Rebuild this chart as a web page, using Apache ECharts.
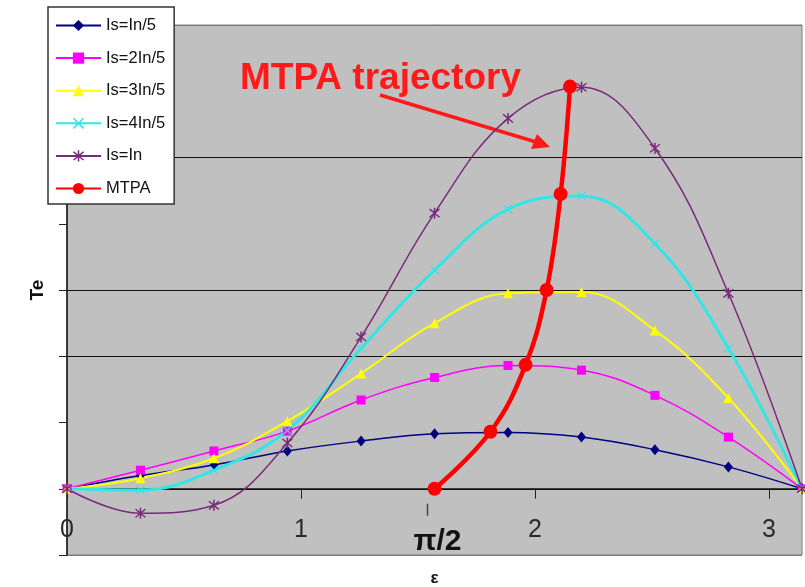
<!DOCTYPE html>
<html>
<head>
<meta charset="utf-8">
<script src="https://cdn.jsdelivr.net/npm/echarts@6/dist/echarts.min.js"></script>
<style>
  html, body { margin: 0; padding: 0; background: #ffffff; }
  #chart { width: 805px; height: 587px; }
</style>
</head>
<body>
<div id="chart"></div>
<script>
// Electrical angle samples (rad) shared by all current levels
const epsilon = [0, 0.314, 0.628, 0.942, 1.257, 1.571, 1.885, 2.199, 2.513, 2.827, 3.1416];

// Torque Te for each stator current level
const teIn1of5 = [0, 0.20, 0.36, 0.57, 0.72, 0.83, 0.85, 0.78, 0.59, 0.33, 0];
const teIn2of5 = [0, 0.28, 0.57, 0.87, 1.34, 1.68, 1.86, 1.79, 1.41, 0.78, 0];
const teIn3of5 = [0, 0.16, 0.46, 1.02, 1.74, 2.50, 2.95, 2.97, 2.39, 1.37, 0];
const teIn4of5 = [0, -0.02, 0.28, 0.88, 2.12, 3.30, 4.22, 4.42, 3.70, 2.12, 0];
const teIn = [0, -0.37, -0.25, 0.69, 2.29, 4.16, 5.59, 6.06, 5.14, 2.95, 0];

// Maximum-torque-per-ampere points (angle, torque)
const mtpaEps = [1.571, 1.81, 1.96, 2.05, 2.11, 2.15];
const mtpaTe = [0, 0.86, 1.87, 3.00, 4.45, 6.07];

const seriesNames = ['Is=In/5', 'Is=2In/5', 'Is=3In/5', 'Is=4In/5', 'Is=In', 'MTPA'];
const xTickLabels = ['0', '1', '2', '3'];

const pairs = (xs, ys) => xs.map((x, i) => [x, ys[i]]);

// marker shapes
const xMark = 'path://M1,0 L5,4 L9,0 L10,1 L6,5 L10,9 L9,10 L5,6 L1,10 L0,9 L4,5 L0,1 Z';
const starMark = 'path://M1,0 L5,4 L9,0 L10,1 L6,5 L10,9 L9,10 L5,6 L1,10 L0,9 L4,5 L0,1 Z M4.3,-1 L5.7,-1 L5.7,11 L4.3,11 Z';

const chart = echarts.init(document.getElementById('chart'), null, { renderer: 'canvas' });

function curve(name, data, color, symbol, size, width) {
  return {
    name: name,
    type: 'line',
    data: data,
    smooth: 0.4,
    symbol: symbol,
    symbolSize: size,
    showAllSymbol: true,
    lineStyle: { color: color, width: width },
    itemStyle: { color: color },
    emphasis: { disabled: true },
    animation: false
  };
}

const option = {
  animation: false,
  textStyle: { fontFamily: 'Arial, "Liberation Sans", sans-serif' },
  grid: {
    left: 67, right: 3, top: 25, bottom: 32,
    outerBoundsMode: 'none',
    containLabel: false,
    show: true,
    backgroundColor: '#c0c0c0',
    borderColor: '#7a7a7a',
    borderWidth: 1
  },
  legend: {
    orient: 'vertical',
    left: 48, top: 7,
    data: seriesNames,
    backgroundColor: '#ffffff',
    borderColor: '#333333',
    borderWidth: 1.5,
    padding: [10, 9, 7, 7],
    itemWidth: 45,
    itemHeight: 14,
    itemGap: 15.6,
    textStyle: { fontSize: 16.5, lineHeight: 16, color: '#111', fontFamily: 'Arial, "Liberation Sans", sans-serif' }
  },
  xAxis: {
    type: 'value',
    min: 0, max: 3.1416, interval: 1,
    axisLine: { onZero: true, lineStyle: { color: '#111', width: 1.5 } },
    axisTick: { show: true, length: 10, lineStyle: { color: '#222' } },
    axisLabel: {
      inside: true,
      margin: 12, fontSize: 25, color: '#2a2a2a',
      showMaxLabel: false,
      formatter: v => (Number.isInteger(v) ? xTickLabels[v] : '')
    },
    splitLine: { show: false }
  },
  yAxis: {
    type: 'value',
    min: -1, max: 7, interval: 1,
    name: 'Te',
    nameLocation: 'middle',
    nameGap: 20,
    nameTextStyle: { fontSize: 19, fontWeight: 'bold', color: '#111' },
    axisLine: { show: true, lineStyle: { color: '#111', width: 1.5 } },
    axisTick: { show: true, length: 8, lineStyle: { color: '#222' } },
    axisLabel: { show: false },
    splitLine: {
      show: true,
      lineStyle: {
        width: 1.2,
        color: ['#7a7a7a', '#111', 'transparent', '#111', '#111', 'transparent', '#111', 'transparent', '#7a7a7a']
      }
    }
  },
  series: [
    curve(seriesNames[0], pairs(epsilon, teIn1of5), '#000080', 'diamond', [9, 11], 1.5),
    curve(seriesNames[1], pairs(epsilon, teIn2of5), '#ff00ff', 'rect', 9, 1.5),
    curve(seriesNames[2], pairs(epsilon, teIn3of5), '#ffff00', 'triangle', 10, 2),
    curve(seriesNames[3], pairs(epsilon, teIn4of5), '#33e6e6', xMark, 9, 3),
    curve(seriesNames[4], pairs(epsilon, teIn), '#7a2a7a', starMark, 11, 1.5),
    curve(seriesNames[5], pairs(mtpaEps, mtpaTe), '#ff0000', 'circle', 14, 4.5)
  ]
};

chart.setOption(option);

// annotations: pi/2 marker under the axis, axis symbol and the trajectory callout
const halfPiX = chart.convertToPixel({ xAxisIndex: 0 }, 1.5708);
const zeroY = chart.convertToPixel({ yAxisIndex: 0 }, 0);

chart.setOption({
  graphic: [
    {
      type: 'line',
      shape: { x1: halfPiX - 7, y1: zeroY + 15, x2: halfPiX - 7, y2: zeroY + 27 },
      style: { stroke: '#444', lineWidth: 1.5 }
    },
    {
      type: 'text',
      x: halfPiX + 3, y: zeroY + 53,
      style: {
        text: 'π/2', fill: '#111',
        font: 'bold 30px Arial, "Liberation Sans", sans-serif',
        textAlign: 'center', textVerticalAlign: 'middle'
      }
    },
    {
      type: 'text',
      x: halfPiX, y: 578,
      style: {
        text: 'ε', fill: '#111',
        font: 'bold 17px Arial, "Liberation Sans", sans-serif',
        textAlign: 'center', textVerticalAlign: 'middle'
      }
    },
    {
      type: 'text',
      x: 240, y: 79,
      style: {
        text: 'MTPA trajectory', fill: '#ff1a1a',
        font: 'bold 37px Arial, "Liberation Sans", sans-serif',
        textAlign: 'left', textVerticalAlign: 'middle'
      }
    },
    {
      type: 'line',
      shape: { x1: 380, y1: 95, x2: 536, y2: 142 },
      style: { stroke: '#ff1a1a', lineWidth: 3.5 }
    },
    {
      type: 'polygon',
      shape: { points: [[550, 147], [531, 149], [537, 134]] },
      style: { fill: '#ff1a1a' }
    }
  ]
});
</script>
</body>
</html>
